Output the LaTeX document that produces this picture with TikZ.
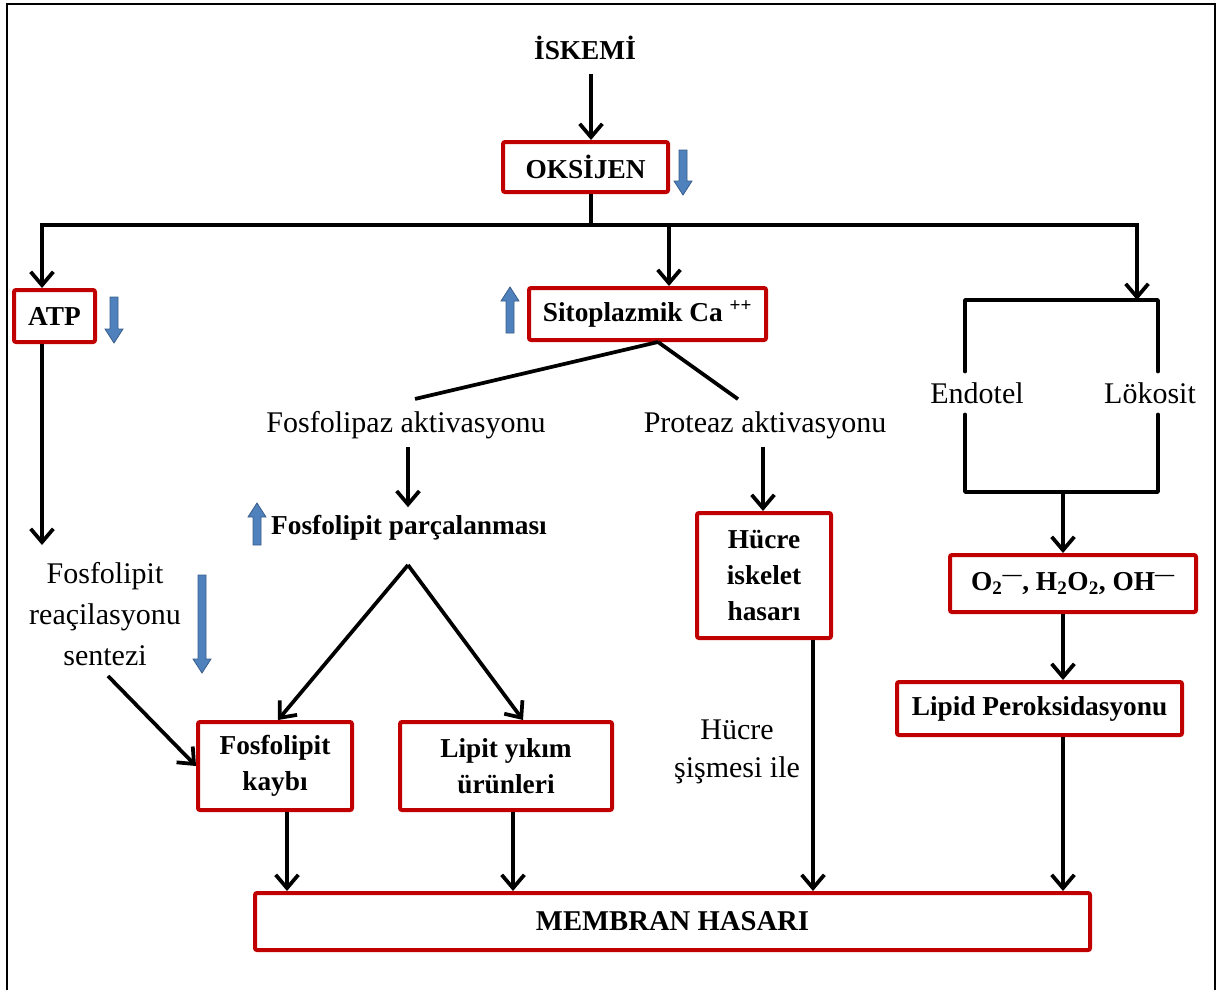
\documentclass[tikz,border=0pt]{standalone}
\usepackage{fontspec}
\setmainfont{Liberation Serif}
\usetikzlibrary{arrows.meta,calc}
\definecolor{boxred}{HTML}{C00000}
\definecolor{bluefill}{HTML}{4F81BD}
\definecolor{blueline}{HTML}{385D8A}
\newcommand{\bdown}[3]{\filldraw[bluefill, draw=blueline, line width=0.6pt] ({#1-4},#2) -- ({#1+4},#2) -- ({#1+4},{#3-14}) -- ({#1+9},{#3-14}) -- (#1,#3) -- ({#1-9},{#3-14}) -- ({#1-4},{#3-14}) -- cycle;}
\newcommand{\bup}[3]{\filldraw[bluefill, draw=blueline, line width=0.6pt] ({#1-4},#3) -- ({#1+4},#3) -- ({#1+4},{#2+14}) -- ({#1+9},{#2+14}) -- (#1,#2) -- ({#1-9},{#2+14}) -- ({#1-4},{#2+14}) -- cycle;}
\begin{document}
\begin{tikzpicture}[x=0.75pt,y=-0.75pt,
  redbox/.style={draw=boxred, line width=3pt, rounded corners=1.5pt, fill=white,
    align=center, inner sep=0pt, font=\fontsize{20.5}{27}\selectfont\bfseries},
  plain/.style={align=center, inner sep=0pt, font=\fontsize{22.5}{30.75}\selectfont},
  boldtxt/.style={align=center, inner sep=0pt, font=\fontsize{20.5}{27}\selectfont\bfseries},
  conn/.style={line width=2.8pt},
  arr/.style={line width=2.8pt, -{Straight Barb[length=10pt,width=17pt]}},
  frame/.style={line width=2pt}]
\useasboundingbox (0,0) rectangle (1217,990);
% frame
\draw[frame] (7,990) -- (7,4) -- (1215,4) -- (1215,990);

% nodes
\node[boldtxt] (iskemi) at (585,48) {İSKEMİ};
\node[redbox, minimum width=123.75pt, minimum height=37.5pt] (oks) at (585.5,167) {OKSİJEN};
\node[redbox, minimum width=60.75pt, minimum height=39pt] (atp) at (54.5,316) {ATP};
\node[redbox, minimum width=177.75pt, minimum height=39pt] (sito) at (647.5,314) {Sitoplazmik Ca \textsuperscript{++}};
\node[plain] (fa) at (406,425) {Fosfolipaz aktivasyonu};
\node[plain] (pa) at (765,425) {Proteaz aktivasyonu};
\node[boldtxt] (fp) at (409,528) {Fosfolipit parçalanması};
\node[plain] (reac) at (105,614) {Fosfolipit\\reaçilasyonu\\sentezi};
\node[redbox, minimum width=115.5pt, minimum height=66pt] (fk) at (275,766) {Fosfolipit\\kaybı};
\node[redbox, minimum width=159pt, minimum height=66pt] (ly) at (506,766) {Lipit yıkım\\ürünleri};
\node[redbox, minimum width=100.5pt, minimum height=93.75pt] (hi) at (764,575.5) {Hücre\\iskelet\\hasarı};
\node[plain, font=\fontsize{22.5}{29}\selectfont] (hs) at (737,752) {Hücre\\şişmesi ile};
\node[plain, inner ysep=8pt] (endo) at (977,393) {Endotel};
\node[plain, inner ysep=8pt] (loko) at (1150,393) {Lökosit};
\node[redbox, minimum width=184.5pt, minimum height=42.75pt] (o2) at (1073,583.5) {O\textsubscript{2}\textsuperscript{—}, H\textsubscript{2}O\textsubscript{2}, OH\textsuperscript{—}};
\node[redbox, minimum width=213.75pt, minimum height=39.75pt] (lp) at (1039.5,708.5) {Lipid Peroksidasyonu};
\node[redbox, minimum width=626.25pt, minimum height=42.75pt, font=\fontsize{21.5}{27}\selectfont\bfseries] (mh) at (672.5,921.5) {MEMBRAN HASARI};

% coordinates
\coordinate (j0) at (591,225);
\coordinate (jl) at (42,225);
\coordinate (jm) at (669,225);
\coordinate (jr) at (1137,225);
\coordinate (atpend) at (42,545);
\coordinate (sp) at (658,342);
\coordinate (fpsplit) at (408,565);
\coordinate (x287) at (287,0);
\coordinate (x513) at (513,0);
\coordinate (x813) at (813,0);
\coordinate (x1063) at (1063,0);
\coordinate (etl) at (965,300);
\coordinate (etr) at (1158,300);
\coordinate (ebl) at (965,492);
\coordinate (ebr) at (1158,492);

% connectors
\draw[arr] ($(iskemi.south -| j0)+(0,14)$) -- (oks.north -| j0);
\draw[conn] (oks.south -| j0) -- (j0);
\draw[conn] ([xshift=-1.4pt]jl) -- ([xshift=1.4pt]jr);
\draw[arr] (jl) -- (atp.north -| jl);
\draw[arr] (jm) -- (sito.north -| jm);
\draw[arr] (jr) -- (jr |- etl);
\draw[arr] (atp.south -| jl) -- (atpend);
\draw[arr] ($(reac.south)+(3,10)$) -- (fk.west);
\draw[conn] (sp) -- ($(fa.north)+(9,-12)$);
\draw[conn] (sp) -- ($(pa.north)+(-27,-12)$);
\draw[arr] ($(fa.south)+(2,8)$) -- ($(fa.south |- fp.north)+(2,-8)$);
\draw[arr] (fpsplit) -- ($(fk.north)+(3,0)$);
\draw[arr] (fpsplit) -- ($(ly.north)+(17,0)$);
\draw[arr] (fk.south -| x287) -- (mh.north -| x287);
\draw[arr] (ly.south -| x513) -- (mh.north -| x513);
\draw[arr] ($(pa.south)+(-2,8)$) -- ($(pa.south |- hi.north)+(-2,0)$);
\draw[arr] (hi.south -| x813) -- (mh.north -| x813);
\draw[conn, line cap=round, line join=round] (endo.north -| etl) -- (etl) -- (etr) -- (loko.north -| etr);
\draw[conn, line cap=round, line join=round] (endo.south -| ebl) -- (ebl) -- (ebr) -- (loko.south -| ebr);
\draw[arr] (ebl -| x1063) -- (o2.north -| x1063);
\draw[arr] (o2.south -| x1063) -- (lp.north -| x1063);
\draw[arr] (lp.south -| x1063) -- (mh.north -| x1063);

% blue arrows
\bdown{683}{150}{195}
\bdown{114}{297}{343}
\bup{510}{287}{333}
\bup{257}{503}{545}
\bdown{202}{575}{673}
\end{tikzpicture}
\end{document}
